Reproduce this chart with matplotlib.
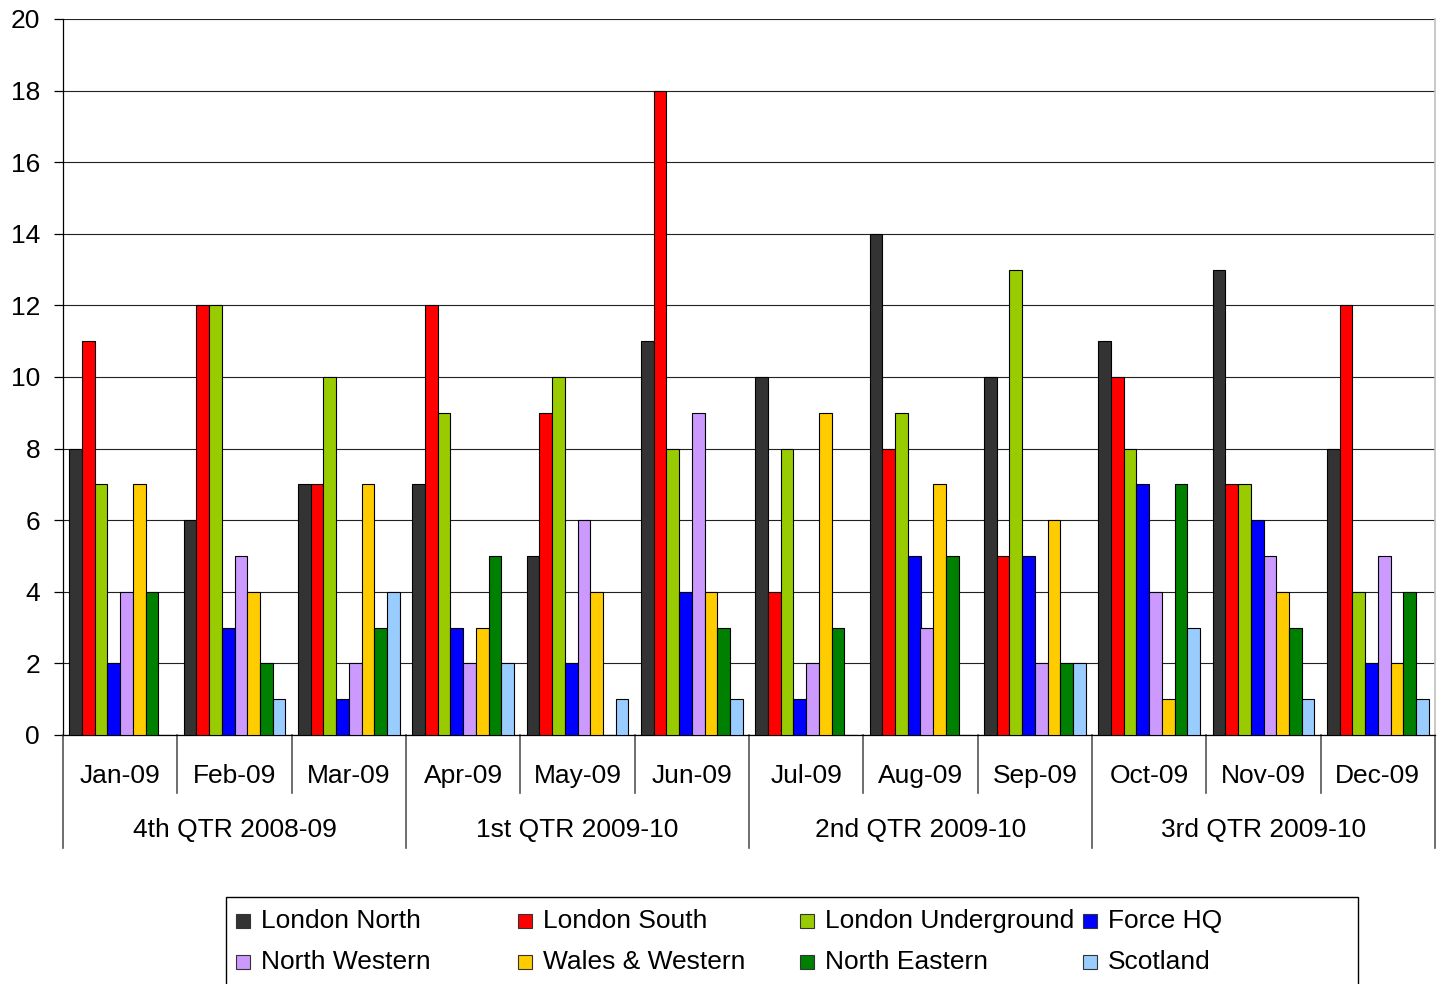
import matplotlib
matplotlib.use("Agg")
import matplotlib.pyplot as plt
from matplotlib.patches import Rectangle
from matplotlib.lines import Line2D
import numpy as np

plt.rcParams['font.family'] = ['Liberation Sans', 'DejaVu Sans']

months = ["Jan-09", "Feb-09", "Mar-09", "Apr-09", "May-09", "Jun-09",
          "Jul-09", "Aug-09", "Sep-09", "Oct-09", "Nov-09", "Dec-09"]
quarters = ["4th QTR 2008-09", "1st QTR 2009-10", "2nd QTR 2009-10", "3rd QTR 2009-10"]
series_names = ["London North", "London South", "London Underground", "Force HQ",
                "North Western", "Wales & Western", "North Eastern", "Scotland"]
london_north = [8, 6, 7, 7, 5, 11, 10, 14, 10, 11, 13, 8]
london_south = [11, 12, 7, 12, 9, 18, 4, 8, 5, 10, 7, 12]
london_underground = [7, 12, 10, 9, 10, 8, 8, 9, 13, 8, 7, 4]
force_hq = [2, 3, 1, 3, 2, 4, 1, 5, 5, 7, 6, 2]
north_western = [4, 5, 2, 2, 6, 9, 2, 3, 2, 4, 5, 5]
wales_western = [7, 4, 7, 3, 4, 4, 9, 7, 6, 1, 4, 2]
north_eastern = [4, 2, 3, 5, 0, 3, 3, 5, 2, 7, 3, 4]
scotland = [0, 1, 4, 2, 1, 1, 0, 0, 2, 3, 1, 1]
colors = ["#333333", "#FF0000", "#99CC00", "#0000FF",
          "#CC99FF", "#FFCC00", "#008000", "#99CCFF"]

series = [london_north, london_south, london_underground, force_hq,
          north_western, wales_western, north_eastern, scotland]

W, H = 1443, 984
FS = 19
fig = plt.figure(figsize=(W / 100, H / 100), dpi=100)
ax = fig.add_axes([63 / W, 1 - 735 / H, (1435 - 63) / W, (735 - 19) / H])

x = np.arange(len(months))
bw = 1 / 9
for i, (vals, c) in enumerate(zip(series, colors)):
    ax.bar(x + (i - 3.5) * bw, vals, width=bw, color=c, edgecolor="black",
           linewidth=0.8, zorder=3)

ax.set_xlim(-0.5, len(months) - 0.5)
ax.set_ylim(0, 20)
ax.set_yticks(range(0, 21, 2))
ax.yaxis.grid(True, color="#222222", linewidth=0.8, zorder=0)
ax.set_axisbelow(True)
ax.spines["top"].set_visible(False)
ax.spines["right"].set_color("#C0C0C0")
ax.spines["right"].set_linewidth(1.2)
ax.spines["left"].set_linewidth(0.9)
ax.spines["bottom"].set_linewidth(0.9)
ax.tick_params(axis="y", length=6.5, width=0.9, labelsize=FS, pad=10)
ax.set_xticks([])

# Multi-level category axis
trans = ax.get_xaxis_transform()
month_line_len = (793 - 735) / (735 - 19)
qtr_line_len = (848 - 735) / (735 - 19)
for b in np.arange(-0.5, len(months), 1):
    is_q = (int(b + 0.5) % 3 == 0)
    ln = qtr_line_len if is_q else month_line_len
    ax.add_line(Line2D([b, b], [0, -ln], transform=trans, color="#555555",
                       linewidth=1.2, clip_on=False))
for i, m in enumerate(months):
    ax.text(i, -(776 - 735) / (735 - 19), m, transform=trans, ha="center",
            va="center", fontsize=FS)
for q, name in enumerate(quarters):
    ax.text(3 * q + 1, -(830 - 735) / (735 - 19), name, transform=trans,
            ha="center", va="center", fontsize=FS)

# Legend (manual, fixed column widths like the original)
fig.patches.append(Rectangle((226 / W, -0.1), (1358 - 226) / W, 0.1 + (H - 897) / H,
                             transform=fig.transFigure, facecolor="white",
                             edgecolor="black", linewidth=1.0))
col_x = [236, 518, 800, 1083]
row_y = [921, 962]
sq = 14
for k, (name, c) in enumerate(zip(series_names, colors)):
    r, cidx = divmod(k, 4)
    px, py = col_x[cidx], row_y[r]
    fig.patches.append(Rectangle((px / W, 1 - (py + sq / 2) / H), sq / W, sq / H,
                                 transform=fig.transFigure, facecolor=c,
                                 edgecolor="#333333", linewidth=0.8))
    fig.text((px + 25) / W, 1 - py / H, name, ha="left", va="center", fontsize=FS)

fig.savefig("out.png", dpi=100)
